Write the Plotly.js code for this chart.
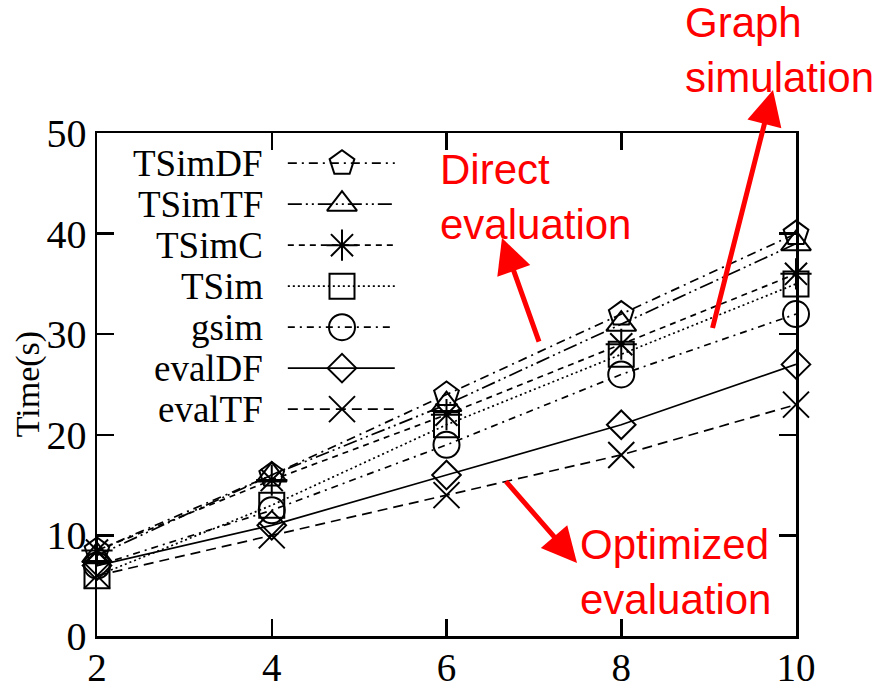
<!DOCTYPE html>
<html>
<head>
<meta charset="utf-8">
<script src="https://cdn.plot.ly/plotly-3.0.1.min.js"></script>
<style>html,body{margin:0;padding:0;background:#fff;}#chart{width:875px;height:689px;}</style>
</head>
<body>
<div id="chart"></div>
<script>
// ---- data ----
const xValues = [2, 4, 6, 8, 10];
const seriesNames = ["TSimDF", "TSimTF", "TSimC", "TSim", "gsim", "evalDF", "evalTF"];
const TSimDF = [8.5, 16, 24, 32, 40];
const TSimTF = [8, 16, 23, 31, 39];
const TSimC  = [8.5, 15.5, 22, 29, 36];
const TSim   = [6, 13, 21, 28, 35];
const gsim   = [7, 12.5, 19, 26, 32];
const evalDF = [7, 11, 16, 21, 27];
const evalTF = [6, 10, 14, 18, 23];
const xTicks = [2, 4, 6, 8, 10];
const yTicks = [0, 10, 20, 30, 40, 50];

// ---- styles ----
const seriesValues = [TSimDF, TSimTF, TSimC, TSim, gsim, evalDF, evalTF];
const symbols = ["pentagon-open", "triangle-up-open", "asterisk-open", "square-open", "circle-open", "diamond-open", "x-thin-open"];
const sizes = [26, 26, 26, 25, 26, 22, 26];
const dashes = ["9px,5px,2px,5px", "14px,4px,2px,4px,2px,4px", "6px,5px", "2px,3px", "7px,5px,2px,5px", "solid", "10px,6px"];

const traces = [];
seriesNames.forEach((name, i) => {
  traces.push({
    x: xValues, y: seriesValues[i], name: name, type: "scatter", mode: "lines+markers",
    cliponaxis: false, showlegend: false,
    line: {color: "#000", width: 1.7, dash: dashes[i]},
    marker: {symbol: symbols[i], size: sizes[i], color: "#000", line: {color: "#000", width: 2}}
  });
});

// legend key traces in a separate normalized frame (layout, not data)
const legTop = 0.94, legStep = 0.0815;
const legX0 = 0.273, legXm = 0.3505, legX1 = 0.426, legTextX = 0.240;
const annotations = [];
seriesNames.forEach((name, i) => {
  const yy = legTop - i * legStep;
  traces.push({
    x: [legX0, legXm, legX1], y: [yy, yy, yy], xaxis: "x2", yaxis: "y2",
    type: "scatter", mode: "lines+markers", showlegend: false, cliponaxis: false, hoverinfo: "skip",
    line: {color: "#000", width: 1.7, dash: dashes[i]},
    marker: {symbol: symbols[i], size: sizes[i], color: "#000", opacity: [0, 1, 0], line: {color: "#000", width: 2}}
  });
  annotations.push({
    xref: "paper", yref: "paper", x: legTextX, y: yy, xanchor: "right", yanchor: "middle",
    text: name, showarrow: false, font: {family: "Liberation Serif", size: 37, color: "#000"}
  });
});

const red = "#ff0000";
const redFont = {family: "Liberation Sans, Arial", size: 42, color: red};
annotations.push(
  {xref: "paper", yref: "paper", x: 0.4878, y: 0.8728, xanchor: "left", yanchor: "middle", align: "left",
   text: "Direct<br>evaluation", showarrow: false, font: redFont},
  {xref: "paper", yref: "paper", x: 0.8383, y: 1.165, xanchor: "left", yanchor: "middle", align: "left",
   text: "Graph<br>simulation", showarrow: false, font: redFont},
  {xref: "paper", yref: "paper", x: 0.6881, y: 0.1272, xanchor: "left", yanchor: "middle", align: "left",
   text: "Optimized<br>evaluation", showarrow: false, font: redFont},
  {xref: "paper", yref: "paper", x: 0.5794, y: 0.7913, ax: 40, ay: 112, text: " ", showarrow: true,
   arrowhead: 2, arrowsize: 1.4, arrowwidth: 5, arrowcolor: red, standoff: 0},
  {xref: "paper", yref: "paper", x: 0.9671, y: 1.0855, ax: -63, ay: 248, text: " ", showarrow: true,
   arrowhead: 2, arrowsize: 1.4, arrowwidth: 5, arrowcolor: red, standoff: 0},
  {xref: "paper", yref: "paper", x: 0.6867, y: 0.1451, ax: -74, ay: -85, text: " ", showarrow: true,
   arrowhead: 2, arrowsize: 1.4, arrowwidth: 5, arrowcolor: red, standoff: 0},
  {xref: "paper", yref: "paper", x: -0.099, y: 0.50, xanchor: "center", yanchor: "middle", textangle: -90,
   text: "Time(s)", showarrow: false, font: {family: "Liberation Serif", size: 34, color: "#000"}}
);

const axisCommon = {
  showline: true, linecolor: "#000", linewidth: 2.5, mirror: "ticks",
  ticks: "inside", ticklen: 17, tickwidth: 2.5, tickcolor: "#000",
  showgrid: false, zeroline: false,
  tickfont: {family: "Liberation Serif", size: 40, color: "#000"}
};

const layout = {
  width: 875, height: 689,
  margin: {l: 97, r: 79, t: 133, b: 53},
  paper_bgcolor: "#fff", plot_bgcolor: "#fff",
  showlegend: false,
  xaxis: Object.assign({}, axisCommon, {range: [2, 10], tickmode: "array", tickvals: xTicks,
    ticklabelstandoff: -4, tickfont: {family: "Liberation Serif", size: 39, color: "#000"}}),
  yaxis: Object.assign({}, axisCommon, {range: [0, 50], tickmode: "array", tickvals: yTicks}),
  xaxis2: {overlaying: "x", range: [0, 1], visible: false, fixedrange: true},
  yaxis2: {overlaying: "y", range: [0, 1], visible: false, fixedrange: true},
  annotations: annotations
};

Plotly.newPlot("chart", traces, layout, {staticPlot: true});
</script>
</body>
</html>
